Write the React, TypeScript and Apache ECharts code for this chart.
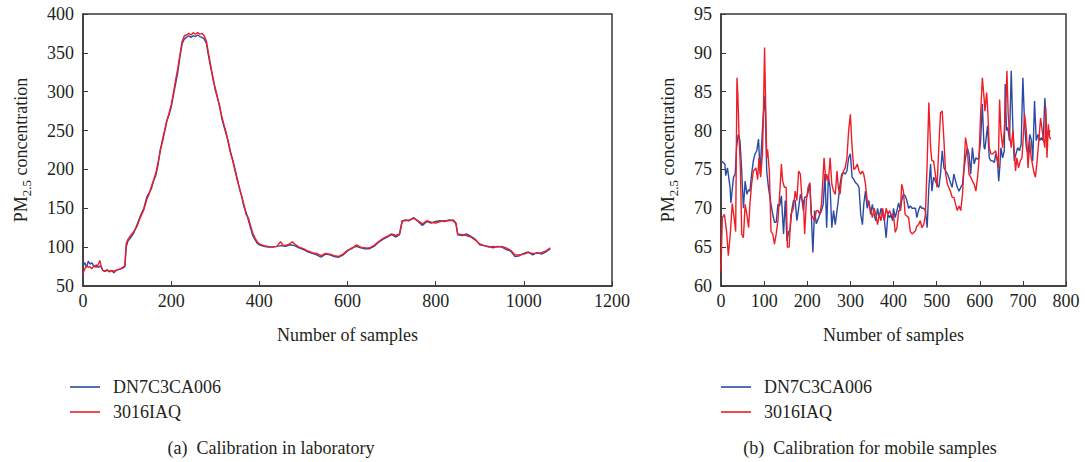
import React, { useEffect, useRef } from "react";
import * as echarts from "echarts";

const seriesNames = ["DN7C3CA006", "3016IAQ"];
const captions = ["(a)  Calibration in laboratory", "(b)  Calibration for mobile samples"];
const xAxisTitle = "Number of samples";

const labBlue: [number, number][] = [
  [0,76],[4,80],[8,74],[12,82],[16,78],[20,80],[25,75],[30,77],[35,74],[40,76],[45,70],[50,69],[55,71],[60,68],[65,70],[70,67],[75,70],[80,71],[85,72],[90,73],[95,75],[98,100],[102,108],[108,112],[115,118],[122,128],[130,140],[138,150],[145,165],[150,170],[155,175],[160,185],[165,192],[170,205],[175,225],[180,235],[185,248],[190,262],[195,270],[200,280],[205,295],[210,310],[215,325],[220,345],[225,362],[230,368],[235,370],[240,372],[245,370],[250,372],[255,371],[260,373],[265,371],[270,370],[275,368],[280,362],[285,345],[290,330],[295,318],[300,302],[305,292],[310,282],[315,265],[320,255],[325,245],[330,235],[335,222],[340,212],[345,200],[350,188],[355,175],[360,165],[365,152],[370,145],[375,135],[380,125],[385,115],[390,110],[395,105],[400,103],[410,101],[420,100],[430,100],[440,101],[450,102],[460,101],[470,103],[480,102],[490,99],[500,97],[510,94],[520,92],[530,90],[540,87],[550,91],[560,90],[570,88],[580,87],[590,90],[600,95],[610,99],[620,101],[630,99],[640,98],[650,98],[660,101],[670,106],[680,110],[690,113],[700,116],[710,113],[718,116],[724,133],[730,135],[740,134],[750,138],[760,133],[770,128],[780,133],[790,131],[800,133],[810,134],[820,133],[830,135],[840,134],[846,130],[850,116],[860,115],[870,117],[880,114],[890,110],[900,103],[910,102],[920,101],[930,99],[940,101],[950,100],[960,97],[970,95],[980,88],[990,89],[1000,92],[1010,94],[1020,90],[1030,93],[1040,91],[1050,94],[1060,98]
];

const labRed: [number, number][] = [
  [0,66],[4,72],[8,76],[12,74],[16,75],[20,72],[25,76],[30,74],[35,78],[38,83],[42,74],[45,70],[50,69],[55,70],[60,69],[65,70],[70,69],[75,70],[80,71],[85,72],[90,74],[95,76],[98,105],[102,110],[108,115],[115,120],[122,126],[130,138],[138,148],[145,162],[150,168],[155,178],[160,186],[165,195],[170,208],[175,222],[180,238],[185,250],[190,262],[195,272],[200,283],[205,298],[210,315],[215,330],[220,348],[225,365],[230,372],[235,373],[240,375],[245,373],[250,376],[255,374],[260,376],[265,374],[270,375],[275,372],[280,365],[285,348],[290,333],[295,315],[300,305],[305,293],[310,280],[315,268],[320,257],[325,247],[330,233],[335,220],[340,210],[345,198],[350,186],[355,176],[360,166],[365,155],[370,142],[375,138],[380,128],[385,118],[390,112],[395,107],[400,104],[410,102],[420,101],[430,100],[440,101],[448,107],[455,102],[465,103],[475,107],[480,104],[490,100],[500,98],[510,95],[520,93],[530,92],[540,89],[550,92],[560,91],[570,89],[580,88],[590,91],[600,96],[610,98],[620,103],[630,100],[640,99],[650,99],[660,102],[670,107],[680,111],[690,114],[700,117],[710,115],[718,117],[724,134],[730,134],[740,135],[750,137],[760,134],[770,130],[780,134],[790,132],[800,131],[810,133],[820,134],[830,134],[840,135],[846,131],[850,117],[860,116],[870,115],[880,113],[890,109],[900,104],[910,102],[920,100],[930,101],[940,100],[950,101],[960,99],[970,96],[980,90],[990,90],[1000,91],[1010,93],[1020,92],[1030,92],[1040,93],[1050,95],[1060,99]
];

const mobBlue: [number, number][] = [
  [0,76.1],[9,75.7],[11,74.2],[15,75.2],[21,72.7],[23,70.7],[29,74],[33,74.4],[36,77.8],[40,79.5],[44,78.7],[48,74.8],[52,70],[56,73.5],[60,71.8],[64,72.4],[67,72.2],[71,74.4],[75,76.1],[79,77],[83,77.4],[87,78.9],[91,74.4],[93,77],[98,82],[102,84.5],[106,74.8],[110,72.7],[116,70.5],[120,69.2],[124,68.2],[128,68.2],[132,70.5],[136,70.3],[140,71.6],[145,66.7],[149,71],[153,65.8],[157,67],[160,67.1],[164,69.7],[168,71],[172,71],[176,68.4],[180,70],[184,71.8],[188,71],[191,69.7],
  [194,71.4],[200,71.6],[206,73.1],[209,70],[213,64.3],[217,69.7],[221,68],[225,68.6],[229,69.2],[233,69.7],[237,70.5],[241,74.4],[245,67.5],[249,74],[253,72.7],[257,67.5],[261,69.7],[265,67.9],[269,69.7],[272,71],[276,73.1],[280,74.4],[284,74.6],[288,74.4],[292,74.8],[296,76.5],[300,77],[304,74],[308,73.7],[312,73.3],[316,73.1],[320,72.7],[324,69.2],[328,67.9],[331,70.5],[335,72.2],[339,70],[343,71],[347,69.2],[351,70.5],[355,69.2],[359,68.4],[363,70],[367,68.8],[371,70],[375,69.2],[379,68.4],[383,66.2],[387,69.2],[391,68.8],[394,69.2],[398,68.4],
  [400,70],[404,68.8],[408,69.7],[412,70.7],[416,69.7],[419,71],[423,71.8],[427,71.6],[431,71],[435,70],[439,70.3],[443,70],[447,70],[451,70],[454,68.8],[458,69.7],[462,70.3],[466,70],[470,70],[474,69.7],[478,67.5],[482,72.7],[486,75.7],[489,72.2],[493,74],[497,73.5],[501,73.1],[505,72.7],[509,74.4],[513,77.4],[517,75.2],[521,74.8],[525,74.4],[528,74],[532,73.3],[536,72.7],[540,74.4],[544,73.5],[548,72.7],[552,72.2],[556,72.7],[560,73.1],[563,74.8],[567,76.5],[571,77.8],[575,77],[579,74.4],[583,77.8],[587,75.7],[591,76.5],[595,76.3],[598,76.5],
  [602,78.7],[606,83.4],[610,77.8],[612,77.6],[618,80.6],[622,76.5],[626,76.1],[630,76.1],[634,75.9],[637,77],[641,76.1],[644,73.5],[647,75.7],[649,77.8],[653,76.5],[657,77.4],[659,86],[662,80],[665,80.4],[669,78.7],[673,87.7],[677,80],[680,76.1],[684,77],[688,77.8],[692,77.4],[696,78.2],[700,86.8],[704,80.8],[708,77.8],[712,77],[716,79.5],[720,78.7],[723,76.1],[727,83.8],[731,78.7],[735,79.5],[739,78.7],[743,79.1],[747,78.7],[751,84.2],[755,80],[759,79.5],[763,80]
];

const mobRed: [number, number][] = [
  [0,61.9],[3,68.8],[8,69.2],[13,67],[17,63.9],[22,67],[26,70.6],[30,69],[34,67],[37,86.8],[39,84.7],[42,79.1],[45,75.2],[48,66.7],[52,66.2],[56,70.5],[60,69.2],[64,67.5],[67,70.5],[71,73.1],[75,74.8],[81,75.2],[85,73.7],[88,76.5],[92,74],[96,77],[98,81],[101,90.7],[106,76.5],[108,77.6],[112,74.8],[114,71],[116,67],[120,66.7],[124,65.4],[128,66.7],[132,68.4],[137,72.7],[140,75.7],[143,73.5],[147,72.7],[151,72.7],[154,65],[158,65],[162,69.2],[168,70],[172,72.2],[176,71],[180,74.8],[184,74.4],[188,71],[191,71],
  [194,66.7],[198,71],[202,72.7],[206,73.3],[209,69.2],[213,68.8],[217,68.4],[221,69.7],[225,69.7],[229,69.2],[233,70.5],[237,74.4],[239,76.5],[243,73.5],[245,74.4],[249,73.5],[253,76.5],[257,73.1],[261,72.2],[265,71.8],[269,74.8],[272,72.7],[276,71.8],[280,74],[284,74.8],[288,75.2],[292,76.5],[296,80],[300,82.1],[304,77.8],[308,75],[312,75.2],[316,75.7],[320,74.8],[324,74.4],[328,74.8],[331,74.4],[335,73.1],[339,71],[343,70.5],[347,69.7],[351,68.8],[355,70],[359,69.2],[363,67.9],[367,69.2],[371,68.4],[375,70],[379,68.4],[383,70],[387,69.2],[391,69.7],[394,69.2],[398,69.2],
  [400,69.2],[404,66.9],[408,67.5],[412,69.7],[416,69.7],[419,73.1],[423,72.2],[427,69.2],[431,69],[435,68.8],[439,67],[443,66.7],[447,66.9],[451,67.1],[454,67.7],[458,67.9],[462,68.4],[466,67.5],[470,67.9],[474,69.2],[478,75.7],[482,83.6],[486,77.8],[489,76.1],[493,76.1],[497,74.4],[501,72.7],[505,77.8],[509,82.3],[513,82.5],[517,78.7],[521,74.4],[525,73.1],[528,72.7],[532,72.2],[536,71.4],[540,71.4],[544,70.5],[548,69.7],[552,70.3],[556,69.7],[560,71.8],[563,74.8],[567,79.1],[571,77.8],[575,74.4],[579,74],[583,73.5],[587,73.1],[591,72.2],[595,74],[598,76.1],
  [602,82.1],[606,86.8],[610,84.2],[612,82.5],[616,84.9],[619,82.1],[622,77.8],[626,77],[630,77],[634,77.2],[637,77.4],[640,76.5],[643,75.2],[646,84],[649,80],[653,77.8],[657,80],[661,84.2],[663,87.7],[666,82.1],[669,79.5],[673,77.8],[677,80],[680,77.4],[683,74.8],[686,76.5],[690,75.2],[694,76.1],[698,76.5],[704,82.1],[708,80],[712,75.2],[716,78.7],[718,77],[722,75.7],[725,74.8],[729,74],[733,76.1],[737,78.7],[741,81.6],[743,80.8],[747,79.1],[751,77.8],[753,83],[756,76.5],[759,80.8],[762,79.1],[765,78.9]
];

const BLUE = "#2b4aa3";
const RED = "#ee1d26";
const FONT = "Liberation Serif";
const TXT = "#231f20";
const AX = "#3a3a3a";

export default function App() {
  const ref = useRef<HTMLDivElement>(null);
  useEffect(() => {
    if (!ref.current) return;
    const chart = echarts.init(ref.current, undefined, { renderer: "svg" });
    const plainNum = (v: number) => String(v);
    const axisCommon = {
      axisLine: { show: true, lineStyle: { color: AX, width: 1.5 } },
      axisTick: { show: true, inside: true, length: 5, lineStyle: { color: AX, width: 1 } },
      axisLabel: { color: TXT, fontFamily: FONT, fontSize: 18, formatter: plainNum },
      splitLine: { show: false },
    };
    const yName = "{a|PM}{b|2.5}{a| concentration}";
    const yNameStyle = {
      color: TXT,
      fontFamily: FONT,
      fontSize: 18,
      rich: {
        a: { fontFamily: FONT, fontSize: 18, color: TXT, lineHeight: 24 },
        b: { fontFamily: FONT, fontSize: 13, color: TXT, lineHeight: 10, verticalAlign: "bottom" },
      },
    };
    const legendCommon = {
      orient: "vertical",
      icon: "rect",
      itemWidth: 30,
      itemHeight: 1.6,
      itemGap: 7,
      data: seriesNames,
      textStyle: { color: TXT, fontFamily: FONT, fontSize: 18, padding: [0, 0, 0, 8] },
    };
    const lineSeries = (name: string, data: [number, number][], color: string, idx: number) => ({
      type: "line",
      name,
      data,
      xAxisIndex: idx,
      yAxisIndex: idx,
      showSymbol: false,
      symbol: "none",
      lineStyle: { color, width: 1.4 },
      itemStyle: { color },
    });
    chart.setOption({
      animation: false,
      backgroundColor: "#ffffff",
      grid: [
        { left: 83, top: 14, width: 529, height: 272, show: true, borderColor: AX, borderWidth: 1.5, containLabel: false },
        { left: 721, top: 14, width: 345, height: 272, show: true, borderColor: AX, borderWidth: 1.5, containLabel: false },
      ],
      xAxis: [
        {
          ...axisCommon, gridIndex: 0, type: "value", min: 0, max: 1200, interval: 200,
          axisLabel: { ...axisCommon.axisLabel, margin: 6 },
          name: xAxisTitle, nameLocation: "middle", nameGap: 40,
          nameTextStyle: { color: TXT, fontFamily: FONT, fontSize: 18 },
        },
        {
          ...axisCommon, gridIndex: 1, type: "value", min: 0, max: 800, interval: 100,
          axisLabel: { ...axisCommon.axisLabel, margin: 6 },
          name: xAxisTitle, nameLocation: "middle", nameGap: 40,
          nameTextStyle: { color: TXT, fontFamily: FONT, fontSize: 18 },
        },
      ],
      yAxis: [
        {
          ...axisCommon, gridIndex: 0, type: "value", min: 50, max: 400, interval: 50,
          axisLabel: { ...axisCommon.axisLabel, margin: 9 },
          name: yName, nameLocation: "middle", nameGap: 50, nameRotate: 90, nameTextStyle: yNameStyle,
        },
        {
          ...axisCommon, gridIndex: 1, type: "value", min: 60, max: 95, interval: 5,
          axisLabel: { ...axisCommon.axisLabel, margin: 9 },
          name: yName, nameLocation: "middle", nameGap: 41, nameRotate: 90, nameTextStyle: yNameStyle,
        },
      ],
      legend: [
        { ...legendCommon, left: 65, top: 373 },
        { ...legendCommon, left: 716, top: 373 },
      ],
      graphic: [
        { type: "text", x: 271, y: 448, style: { text: captions[0], fill: TXT, font: `18px "${FONT}"`, align: "center", verticalAlign: "middle" } },
        { type: "text", x: 870, y: 448, style: { text: captions[1], fill: TXT, font: `18px "${FONT}"`, align: "center", verticalAlign: "middle" } },
      ],
      series: [
        lineSeries(seriesNames[0], labBlue, BLUE, 0),
        lineSeries(seriesNames[1], labRed, RED, 0),
        lineSeries(seriesNames[0], mobBlue, BLUE, 1),
        lineSeries(seriesNames[1], mobRed, RED, 1),
      ],
    });
    return () => chart.dispose();
  }, []);
  return <div ref={ref} style={{ position: "fixed", left: 0, top: 0, width: 1085, height: 462 }} />;
}
